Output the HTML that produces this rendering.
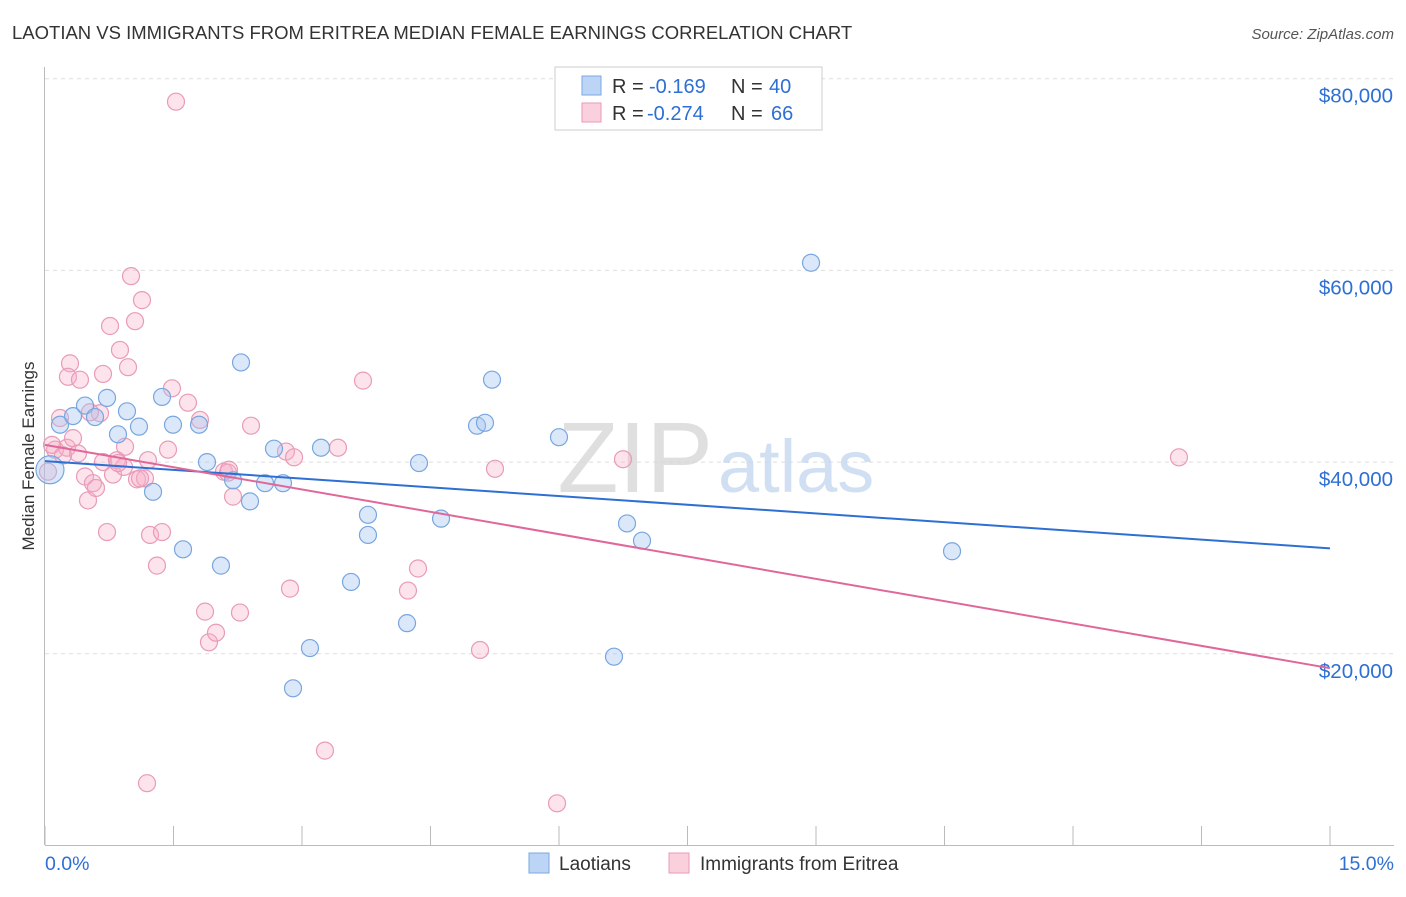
<!DOCTYPE html>
<html><head><meta charset="utf-8">
<style>
body{margin:0;background:#fff;font-family:"Liberation Sans",sans-serif;}
svg text{font-family:"Liberation Sans",sans-serif;}
</style></head>
<body>
<svg id="chart" width="1406" height="892" viewBox="0 0 1406 892" xmlns="http://www.w3.org/2000/svg">
<text x="12" y="39" font-size="18.5" fill="#333">LAOTIAN VS IMMIGRANTS FROM ERITREA MEDIAN FEMALE EARNINGS CORRELATION CHART</text>
<text x="1394" y="39" font-size="15" fill="#555" text-anchor="end" font-style="italic">Source: ZipAtlas.com</text>
<g id="grid"></g>
<g>
<text x="713" y="492" font-size="100" fill="#d8d8d8" text-anchor="end" font-family="Liberation Serif" opacity="0.8">ZIP</text>
<text x="718" y="492" font-size="74" fill="#c5d8ef" opacity="0.8">atlas</text>
</g>
<g id="axes"></g>
<g id="marks"></g>
<text transform="translate(34,456) rotate(-90)" font-size="17" fill="#333" text-anchor="middle">Median Female Earnings</text>
<g>
<rect x="555" y="67" width="267" height="63" fill="#fff" stroke="#ccc"/>
<rect x="582" y="76" width="19" height="19" fill="#bcd4f5" stroke="#7aa8e0"/>
<rect x="582" y="103" width="19" height="19" fill="#fbd0dd" stroke="#e89ab5"/>
<text x="612" y="93" font-size="20" fill="#333">R =</text>
<text x="649" y="93" font-size="20" fill="#2e6fd4">-0.169</text>
<text x="731" y="93" font-size="20" fill="#333">N =</text>
<text x="769" y="93" font-size="20" fill="#2e6fd4">40</text>
<text x="612" y="120" font-size="20" fill="#333">R =</text>
<text x="647" y="120" font-size="20" fill="#2e6fd4">-0.274</text>
<text x="731" y="120" font-size="20" fill="#333">N =</text>
<text x="771" y="120" font-size="20" fill="#2e6fd4">66</text>
</g>
<g>
<rect x="529" y="853" width="20" height="20" fill="#bcd4f5" stroke="#7aa8e0"/>
<text x="559" y="870" font-size="19" fill="#333">Laotians</text>
<rect x="669" y="853" width="20" height="20" fill="#fbd0dd" stroke="#e89ab5"/>
<text x="700" y="870" font-size="19" fill="#333">Immigrants from Eritrea</text>
</g>
</svg>
<script>
const xTicks=[0,1.5,3,4.5,6,7.5,9,10.5,12,13.5,15];
const yTicks=[20,40,60,80];
const yTickLabels=["$20,000","$40,000","$60,000","$80,000"];
const blueX=[0.058,0.175,0.327,0.467,0.584,0.724,0.852,0.957,1.097,1.261,1.366,1.494,1.611,1.798,1.891,2.054,2.195,2.393,2.288,2.673,2.568,2.778,3.093,2.895,3.222,3.572,3.77,3.77,4.226,4.366,4.623,5.043,5.136,5.218,6.0,6.642,6.794,6.969,8.942,10.588];
const blueY=[39.2,43.9,44.8,45.9,44.7,46.7,42.9,45.3,43.7,36.9,46.8,43.9,30.9,43.9,40.0,29.2,38.1,35.9,50.4,41.4,37.8,37.8,20.6,16.4,41.5,27.5,34.5,32.4,23.2,39.9,34.1,43.8,44.1,48.6,42.6,19.7,33.6,31.8,60.8,30.7];
const pinkX=[0.035,0.117,0.175,0.257,0.292,0.268,0.327,0.385,0.408,0.467,0.502,0.56,0.595,0.642,0.677,0.677,0.724,0.759,0.794,0.84,0.875,0.922,0.934,0.969,1.004,1.051,1.074,1.132,1.167,1.202,1.226,1.307,1.366,1.436,1.482,1.529,1.191,1.669,1.809,1.868,1.914,1.996,2.089,2.136,2.195,2.276,2.405,2.813,2.86,2.907,3.268,3.42,3.712,4.237,4.354,5.078,5.253,5.977,6.747,13.237,2.148,0.852,0.525,0.082,0.21,1.109];
const pinkY=[39.0,41.3,44.6,41.5,50.3,48.9,42.5,40.9,48.6,38.5,36.0,37.8,37.3,45.1,49.2,40.0,32.7,54.2,38.7,40.2,51.7,39.5,41.6,49.9,59.4,54.7,38.2,56.9,38.3,40.2,32.4,29.2,32.7,41.3,47.7,77.6,6.5,46.2,44.4,24.4,21.2,22.2,39.0,38.9,36.4,24.3,43.8,41.1,26.8,40.5,9.9,41.5,48.5,26.6,28.9,20.4,39.3,4.4,40.3,40.5,39.2,39.9,45.2,41.8,40.7,38.3];
const blueTrend=[40.1,31.0];
const pinkTrend=[41.8,18.5];
const trendX=[0,15];
const NS="http://www.w3.org/2000/svg";
function sx(v){return 45+v/15*1285;}
function sy(v){return 845.5-v*9.585;}
function mk(tag,attrs,parent){const e=document.createElementNS(NS,tag);for(const k in attrs)e.setAttribute(k,attrs[k]);parent.appendChild(e);return e;}
const grid=document.getElementById('grid'),axes=document.getElementById('axes'),marks=document.getElementById('marks');
yTicks.forEach((t,i)=>{
 const l=mk('line',{x1:45,x2:1394,y1:sy(t),y2:sy(t),stroke:'#ddd','stroke-dasharray':'4,4'},grid);
 
 
 const tx=mk('text',{x:1393,y:sy(t)+24,'font-size':20.5,fill:'#2e6fd4','text-anchor':'end'},axes);
 tx.textContent=yTickLabels[i];
 
 
});
const ya=mk('line',{x1:44.5,x2:44.5,y1:67,y2:845,stroke:'#bbb'},axes);


const xa=mk('line',{x1:45,x2:1394,y1:845.5,y2:845.5,stroke:'#bbb'},axes);


xTicks.forEach(t=>{
 const l=mk('line',{x1:sx(t),x2:sx(t),y1:826,y2:845,stroke:'#bbb'},axes);
 
 
});
const x0=mk('text',{x:45,y:870,'font-size':19.5,fill:'#2e6fd4'},axes);x0.textContent='0.0%';


const x1=mk('text',{x:1394,y:870,'font-size':19.5,fill:'#2e6fd4','text-anchor':'end'},axes);x1.textContent='15.0%';


function pts(X,Y,fill,stroke,name){
 X.forEach((x,i)=>{
  const big=(name==='laotian-point'&&i===0);
  const c=mk('circle',{cx:sx(x),cy:sy(Y[i]),r:big?14:8.5,fill:fill,stroke:stroke,'stroke-width':1.2},marks);
  
  
 });
}
pts(pinkX,pinkY,'rgba(246,175,200,0.35)','#e99bb7','eritrea-point');
pts(blueX,blueY,'rgba(165,198,242,0.4)','#78a6df','laotian-point');
const bl=mk('line',{x1:sx(trendX[0]),y1:sy(blueTrend[0]),x2:sx(trendX[1]),y2:sy(blueTrend[1]),stroke:'#2e6fd4','stroke-width':2},marks);


const pl=mk('line',{x1:sx(trendX[0]),y1:sy(pinkTrend[0]),x2:sx(trendX[1]),y2:sy(pinkTrend[1]),stroke:'#e0679a','stroke-width':2},marks);


</script>
</body></html>
